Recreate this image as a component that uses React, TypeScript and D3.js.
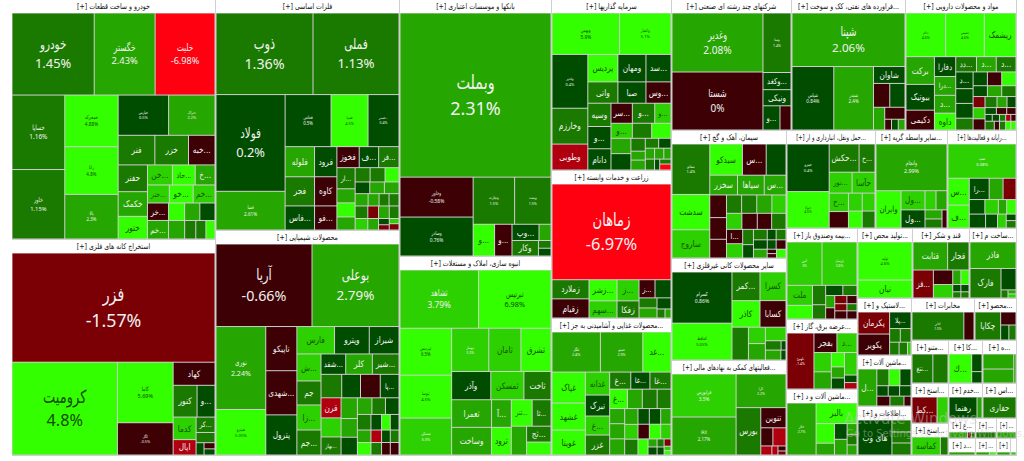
import React from 'react';
import * as d3 from 'd3';

const c = (name: string, p: number, v: number) => ({ name, p, v });
const h = (...kids: any[]) => ({ dir: 'h', kids });
const w = (...kids: any[]) => ({ dir: 'v', kids });

const autoCells = w(
  h(c('خودرو', 1.45, 6480), c('خگستر', 2.43, 4800), c('خلیت', -6.98, 4720)),
  h(
    w(c('خساپا', 1.16, 3774), c('خاور', 1.15, 3519)),
    w(c('خمحرکه', 4.88, 2652), c('رانا', 4.8, 2444), c('بالا', 2.3, 2288)),
    w(
      h(c('خپارس', 0.5, 1950), c('ختراک', 2.2, 1794)),
      h(c('فنر', 1.5, 1044), c('خزر', 1.5, 957), c('خبه...', -0.5, 754)),
      h(
        w(c('حفنر', 1.4, 754), c('خکمک', 2.5, 696), c('ختور', 4.5, 638)),
        w(
          h(c('خن...', 3.3, 480), c('حاذ...', 4.5, 440), c('خ...', 2.8, 380)),
          h(c('ختر...', 3, 378), c('خو...', 4.3, 414), c('خم...', 3.2, 378)),
          h(
            w(c('خر...', -0.5, 352), c('خم...', 2.8, 374)),
            w(
              h(c('', 4.5, 272), c('', 2.5, 255), c('', 0.5, 255)),
              h(c('', 2.8, 288), c('', 1.4, 198), c('', 1.5, 180), c('', 4.5, 162))
            )
          )
        )
      )
    )
  )
);

const miningCells = w(
  c('فزر', -1.57, 21708),
  h(
    c('کرومیت', 4.8, 9579),
    w(c('کاما', 5.69, 3300), c('کگل', -0.5, 1760)),
    w(
      c('کهاد', -0.5, 946),
      h(c('کنور', 1.5, 744), c('و...', 0.4, 558)),
      h(
        w(c('کدما', 3.8, 506), c('اپال', -4, 345)),
        w(c('کر...', 1.5, 285), c('', 1.4, 190), h(c('', 0.5, 96), w(c('', -0.5, 66), c('', 0.4, 66))))
      )
    )
  )
);

const metalCells = w(
  h(c('ذوب', 1.36, 7760), c('فملی', 1.13, 6880)),
  h(
    w(c('فولاد', 0.2, 6555), c('فسا', 2.61, 2622)),
    w(
      h(c('فخاس', 0.5, 2346), c('فسپا', 4.5, 1887), c('فسنر...', 0.4, 1581)),
      h(
        w(c('فلوله', 2.7, 870), c('فجر', 1.5, 841), c('فاس...', 0.5, 696)),
        w(c('فرود', 0.4, 660), c('کاوه', -0.6, 638), c('فو...', -0.6, 528)),
        w(
          h(c('فخوز', -0.6, 460), c('ف...', 0.6, 400), c('فر...', 1.5, 420)),
          h(
            w(c('ار...', 1.3, 378), c('', 2.8, 252), c('', 4.4, 252), c('', 2.8, 234)),
            w(
              h(c('', 1.4, 210), c('', 1.8, 210), c('', 4.6, 196)),
              h(c('', 0.5, 168), c('', 2.8, 168), c('', 2.7, 168)),
              h(c('', 2.8, 156), c('', 2.8, 132), c('', 1.5, 120), c('', 1.5, 120)),
              h(c('', 1.5, 156), c('', -1.3, 132), c('', 2.6, 132), c('', 1.8, 120)),
              h(c('', 3.7, 143), c('', 2, 121), w(c('', 0.5, 66), c('', -1.3, 55)), w(c('', 3.7, 50), c('', -1.3, 60)))
            )
          )
        )
      )
    )
  )
);

const chemCells = w(
  h(c('آریا', -0.66, 7872), c('بوعلی', 2.79, 7134)),
  h(
    w(c('نوری', 2.24, 4100), c('شپترو', 5.05, 2250)),
    w(c('تاپیکو', -0.7, 1364), c('شهدی...', -0.6, 1364), c('پترول', 0.4, 1240)),
    w(
      h(c('فارس', 3.8, 1026), c('وپترو', 0.4, 945), c('شیراز', 0.4, 810)),
      h(
        w(c('ش...', 3, 648), c('جم', 1.5, 576), c('زا...', 3.2, 600), c('جم...', 1.6, 600)),
        w(
          h(c('شفد...', 0.4, 500), c('کلر', 2.8, 540), c('شیر...', 1.5, 540)),
          h(c('', 1.4, 483), c('', 0.5, 437), c('', -0.6, 460), c('پا...', 0.5, 437)),
          h(
            w(c('قرن', -4, 400), c('', 3.6, 380), c('بهار...', 1.4, 360)),
            w(c('', 2.8, 336), c('', 2.7, 304), c('', 0.5, 288)),
            w(
              h(c('', 2.8, 240), c('', 1.5, 224), c('', 0.5, 224)),
              h(c('', 1.5, 210), c('', 0.5, 165), c('', 4, 135), c('', 0.5, 135)),
              h(c('', 2.8, 168), c('', -4.5, 132), c('', 0.5, 108), c('', 1.4, 108)),
              h(c('', 4.2, 168), c('', 1.5, 132), c('', -0.5, 108), c('', -0.9, 108))
            )
          )
        )
      )
    )
  )
);

const bankCells = w(
  c('وبملت', 2.31, 24450),
  h(
    w(c('وخاور', -0.58, 2880), c('وصادر', 0.76, 2808)),
    w(
      h(c('وتجارت', 1.5, 1927), c('وپست', 1.5, 1692)),
      h(
        c('و...', 4.6, 672),
        c('و...', -0.5, 544),
        w(
          h(c('وپ...', 0.5, 432), c('', 2.7, 192)),
          h(c('وکار', 1.4, 405), w(c('', 1.5, 96), c('', 0.5, 96)))
        )
      )
    )
  )
);

const buildCells = w(
  h(c('ثشاهد', 3.79, 4524), c('ثبرتیس', 6.98, 4176)),
  h(
    w(c('ثپردیس', 6.5, 2397), c('ثنوسا', 4.5, 2193), c('ثمسکن', 3.3, 1887)),
    w(
      h(c('ثبهساز', 3.3, 1591), c('ثامان', 3.2, 1376), c('ثشرق', 4.5, 1290)),
      h(c('وآذر', 0.5, 1092), c('ثمسکن', 3.2, 924), c('ثاخت', 1.5, 756)),
      h(
        w(c('ثعمرا', 2.3, 1092), c('وساخت', 2.3, 1092)),
        w(c('آ...', 2.5, 540), c('ثرود', 4.5, 540)),
        w(
          h(c('ثتر...', 4.4, 546), c('ثا...', 1.5, 494)),
          h(c('', 2.5, 435), w(c('ثج...', 1.5, 384), c('', 4.5, 312)))
        )
      )
    )
  )
);

const investCells = w(
  h(c('وبهمن', 5.9, 2747), c('واعتبار', 5.1, 2091)),
  h(
    w(c('وغدیر', 0.4, 1890), c('وخارزم', 1.5, 1260), c('وطوبی', -4, 910)),
    w(
      h(c('پردیس', 4.4, 810), c('ومهان', 0.4, 756), c('سد...', 0.4, 675)),
      h(c('واتی', 1.5, 630), c('صبا', 0.5, 588), c('وس...', -0.6, 525)),
      h(
        w(c('وسپه', 1.5, 529), c('و...', 0.4, 506), c('دانام', 0.5, 483)),
        w(
          h(c('سر...', -0.6, 420), c('و...', 1.5, 440), c('و...', 3.4, 320)),
          h(c('و...', 3.6, 315), c('', 1.5, 285), c('', 4.6, 285)),
          h(
            w(c('', 2.8, 300), c('', 0.5, 320)),
            w(c('', 1.5, 182), c('', 2.8, 126), c('', 2.8, 140)),
            w(
              h(c('', 1.5, 130), c('', 0.5, 120)),
              h(c('', 2.5, 99), c('', 2.5, 99), c('', 2.5, 77)),
              h(c('', 1.5, 99), c('', 0.5, 55), w(c('', 1.5, 55), c('', -6, 66)))
            )
          )
        )
      )
    )
  )
);

const farmCells = w(
  c('زماهان', -6.97, 11305),
  h(
    w(c('زملارد', 1.5, 703), c('زقیام', -0.6, 703)),
    w(c('زشر...', 4.4, 588), c('سهم...', 3.4, 476)),
    w(c('ز...', 3.2, 462), c('زفکا', 1.4, 374)),
    w(
      h(c('ز...', -0.6, 288), c('', 0.4, 288)),
      h(
        w(c('', 1.4, 180), c('', 2.7, 180)),
        w(c('', 0.5, 154), h(c('', 1.4, 72), c('', 2.8, 54)))
      )
    )
  )
);

const foodCells = w(
  h(c('غگل', 2.4, 1920), c('غمینو', 2.9, 1680), c('غد...', 4.5, 1120)),
  h(
    w(c('غپاک', 4.4, 1023), c('غشهد', 4.5, 891), c('غویتا', 4.3, 825)),
    w(c('غدانه', 3.8, 552), c('تبرک', 0.5, 504), c('غ...', 3, 456), c('غزر', 1.5, 480)),
    w(
      h(c('غ...', 1.5, 357), c('غا...', 0.5, 323), c('غا...', 1.5, 357)),
      h(c('غ...', 4, 342), c('', 2.7, 285), c('', 1.5, 285), c('', 1.4, 266)),
      h(
        w(c('', 2.7, 225), c('', 2.7, 225), c('', 2.7, 240)),
        w(c('', 2.4, 208), c('', 3, 195), c('', 1.5, 208)),
        w(
          h(c('', 0.5, 176), c('', 0.5, 176), c('', 2.8, 160)),
          h(c('', -0.6, 165), c('', 4.5, 165), c('', 3.4, 150)),
          h(c('', 4.5, 160), w(c('', 2.8, 72), c('', 0.5, 72)), w(c('', 1.4, 56), c('', 0.5, 56)), w(c('', -1.3, 50), c('', 3.4, 30), c('', 4, 30)))
        )
      )
    )
  )
);

const holdingCells = h(
  w(c('وغدیر', 2.08, 5310), c('شستا', 0, 5220)),
  w(
    c('وصنا', 1.4, 1652),
    c('وکغد...', 0.4, 476),
    c('ونیکی', 0.4, 448),
    h(c('و...', 0.4, 408), c('', -0.6, 264))
  )
);

const oilCells = w(
  c('شپنا', 2.06, 5989),
  h(
    c('شپاس', 0.84, 2624),
    c('شبندر', 2.4, 2496),
    w(
      c('شاوان', 0.4, 527),
      h(c('', -0.6, 384), c('', 0.4, 360)),
      h(c('', 2.7, 253), w(c('', -0.6, 240), h(c('', -0.6, 72), c('', 0.5, 72), c('', 2.5, 72))))
    )
  )
);

const pharmaCells = w(
  h(c('ددام', 4.6, 1720), c('دشیمی', 4.6, 1677), c('ریشمک', 4.5, 1376)),
  h(
    w(c('برکت', 2.7, 784), c('بیوتیک', 0.4, 728), c('دکیمی', -0.6, 560)),
    w(c('دفارا', 0.4, 420), c('درا...', 2.7, 399), c('د...', 2.7, 378), c('داوه', 4.4, 357)),
    w(
      h(c('دد...', 1.5, 315), c('د...', 2.7, 300), c('د...', 1.5, 300)),
      h(
        w(c('د...', 0.4, 289), c('', 0.4, 255), c('', 0.4, 255), c('', 1.5, 204)),
        w(
          h(c('', 0.4, 196), c('', -0.6, 196), c('', 4.4, 196)),
          h(c('', 0.4, 154), c('', 2.7, 154), c('', 1.5, 154)),
          h(
            w(c('', -1.5, 132), c('', 3.4, 132), c('', -0.6, 132)),
            w(
              h(c('', 1.5, 132), c('', 2.7, 110), c('', 0.5, 99)),
              h(c('', 0.4, 77), c('', -0.6, 70), c('', -0.6, 63)),
              h(c('', 0.4, 49), c('', 0.4, 49), c('', 1.5, 42), c('', -4, 35), c('', -0.6, 35)),
              h(c('', 1.5, 81), c('', -0.6, 45), c('', 1.5, 54), c('', 4, 45), c('', 4, 45))
            )
          )
        )
      )
    )
  )
);

const cementCells = h(
  w(c('سفانو', 1.4, 1850), c('سدشت', 4.5, 1295), c('ساروج', 3.2, 1036)),
  w(
    h(c('سیدکو', 4.6, 990), c('س...', -0.6, 720), c('', 0.4, 600)),
    h(c('سخزر', 2.7, 532), c('سپاها', 2.7, 513), c('س...', 2.8, 418)),
    h(
      w(c('', -0.6, 368), c('', -0.6, 352), c('', -0.6, 304)),
      w(
        h(c('', 1.5, 270), c('', 1.5, 270), c('', 2.5, 270), c('', 3, 252)),
        h(c('', 3.2, 240), c('', -0.6, 240), c('', -0.6, 224), c('', 1.5, 224)),
        h(
          w(c('ا...', -0.6, 225), c('', 3.4, 225)),
          w(c('', 1.5, 160), c('', 0.4, 140)),
          w(
            h(c('', 1.5, 140), c('', 0.4, 90), c('', 1.5, 100)),
            h(c('', 0.4, 126), c('', 0.4, 81), c('', -0.6, 90)),
            h(c('', 2.7, 117), w(c('', -0.6, 40), c('', -0.6, 40)), c('', 4, 81))
          )
        )
      )
    )
  )
);

const mineralCells = h(
  w(c('کسرام', 0.86, 3000), c('کحافظ', 5.05, 2160)),
  w(
    h(c('کمر...', 1.5, 784), c('کسرا', 3, 728)),
    h(c('کاذر', 4.4, 728), c('کسابا', -0.6, 676)),
    h(
      c('', 1.4, 528),
      w(c('', 3, 272), c('', 2.7, 272)),
      w(c('', 3.8, 273), h(c('', 1.5, 144), c('', 0.4, 45)), h(c('', 2.7, 150), c('', 0.4, 50)))
    )
  )
);

const financeCells = h(
  w(c('فرابورس', 3.5, 2709), c('IRX', 2.17, 2394)),
  w(
    c('کارا', 2.2, 1650),
    h(
      c('بورس', 1.4, 1150),
      w(
        c('تنوین', -0.6, 500),
        h(c('', -0.6, 216), c('', -4, 234)),
        h(c('', -4, 99), c('', -4.5, 54), w(c('', -0.6, 40), c('', -1.3, 32)))
      )
    )
  )
);

const transportCells = h(
  w(c('حپترو', 0.4, 1927), c('حتوکا', 4.5, 1476)),
  w(
    h(c('حکش...', 1.5, 810), c('ح...', 1.4, 432)),
    h(c('نور...', 3, 460), c('حآسا', 3, 460)),
    h(
      w(c('ح...', 3, 342), c('', -0.6, 304)),
      w(h(c('', 3, 238), c('', 3.4, 221)), h(c('', 4.4, 224), c('', 1.5, 208)))
    )
  )
);

const brokerCells = w(
  c('وانجام', 2.99, 3290),
  h(
    c('وایران', 4.5, 925),
    w(
      h(c('ول...', 3.8, 456), c('', 3, 209), c('', 2.7, 209)),
      h(c('ول...', 0.4, 432), w(c('', 2.7, 153), c('', 1.5, 153)), c('', -0.6, 90))
    )
  )
);

const itCells = w(
  c('سپ', 3.38, 2312),
  h(
    w(c('س...', 4.3, 567), c('ف...', 4.3, 483)),
    w(
      h(c('را...', 0.4, 420), c('', 2.8, 294), c('', -1.4, 273)),
      h(c('', 0.4, 225), c('', 3.2, 195), c('', 2.7, 120), c('', 4.4, 135)),
      h(c('', 0.4, 225), c('', 0.5, 165), c('', 3, 120), w(c('', 0.5, 63), c('', 1.4, 72)))
    )
  )
);

const insuranceCells = w(
  h(c('البرز', 3, 1470), c('پارسیان', 3.6, 1470)),
  h(
    w(c('ملت', 3.4, 494), c('', 4.4, 338)),
    w(c('', 1.5, 247), c('', 1.5, 182)),
    w(
      h(c('', 0.5, 170), c('', 1.5, 140)),
      h(
        w(c('', 2.7, 108), c('', -0.6, 99)),
        w(c('', -1.5, 96), c('', -1.5, 84), c('', -0.6, 96)),
        w(c('', -0.6, 80), c('', 1.4, 70), c('', -0.6, 80))
      )
    )
  )
);

const powerCells = h(
  c('بکهنوج', -1.4, 1456),
  w(
    h(c('بفجر', -0.6, 432), c('د...', 3.5, 378)),
    h(
      w(c('', 3.2, 324), c('', 2.7, 288)),
      w(c('', 4.4, 182), c('', 2.7, 140), c('', 0.4, 140)),
      w(c('', 3.5, 273), c('', 0.4, 91), c('', -4, 78))
    )
  )
);

const machineACells = h(
  c('خکار', 2.7, 1508),
  w(
    c('بالبر', 4, 840),
    h(
      w(c('', 4.4, 360), c('', 2.8, 216)),
      w(c('', 0.4, 198), c('', 2.7, 198)),
      w(c('', 2.5, 110), c('', 1.5, 100), c('', 2.5, 100))
    )
  )
);

const productCells = w(c('تولید', 4.6, 1944), c('نیان', 4.6, 918));

const sugarCells = w(
  h(c('قثابت', 2.7, 918), c('قجار', 1.5, 567)),
  h(
    c('قز...', -1.4, 540),
    w(
      h(c('', -0.6, 266), c('', 2.8, 112), c('', 4.4, 112)),
      h(c('', 3.6, 247), w(c('', 0.4, 56), c('', 1.4, 48)), w(c('', 0.4, 56), c('', 1.4, 48)))
    )
  )
);

const buildMatCells = w(
  c('فاذر', 2.4, 1196),
  h(c('فارک', 1.5, 899), w(c('', 0.4, 315), h(c('', 1.5, 56), w(c('', 2.7, 32), c('', 3, 32)))))
);

const tyreCells = h(
  w(c('پکرمان', -1.4, 620), c('پکویر', -0.6, 589)),
  w(
    c('پلا...', 0.4, 315),
    h(c('', 1.5, 130), c('', 1.5, 130)),
    h(c('', 1.5, 108), c('', 1.5, 96), c('', 3.2, 40))
  )
);

const machineCells = h(
  c('ل...', 2.7, 703),
  w(
    h(c('', 1.5, 204), c('', 4.4, 187), c('', 0.4, 187)),
    h(c('', 0.4, 120), c('', 0.4, 120), c('', 0.4, 120)),
    h(c('', -0.6, 130), c('', 1.5, 140), c('', -0.6, 70))
  )
);

const webCells = h(
  c('های وب', 0.4, 1190),
  w(c('', 1.5, 230), c('', 1.5, 210), c('', 1.5, 230))
);

const telecomCells = h(c('اخابر', 1.5, 1377), c('', -0.6, 270));
const productBCells = h(
  c('چکاپا', 1.5, 702),
  w(c('', -0.6, 195), h(c('', 0.4, 120), c('', 1.5, 105)))
);
const miscCells = h(c('نتغ...', 1.5, 616), c('', 1.7, 448));
const kaCells = h(c('ك...', 4.5, 616), w(c('', 0.4, 170), c('', 0.4, 110)));
const heCells = h(w(c('', 2.4, 420), c('', 2.4, 390)), c('', 2.8, 60));
const ext1Cells = h(c('کط...', -1.4, 621), c('', 3.8, 270));
const serviceCells = h(c('رهنما', 0.4, 560), c('', 2.7, 100));
const oilDrillCells = h(c('حفاری', 1.5, 660));
const ext2Cells = h(c('کماسه', 3, 520), c('', 1.5, 140));
const t1Cells = h(c('', 2.7, 60), c('', -1.4, 12), c('', 1.5, 12));
const t2Cells = h(c('', 1, 60));
const t3Cells = h(c('', 2.7, 60));
const t4Cells = h(c('', 2.7, 60));
const t5Cells = h(c('', 2.9, 40), c('', 4.2, 20));
const t6Cells = h(c('', 2.7, 60));
const t7Cells = h(c('', 3, 20));

const s = (title: string, area: number, tree: any) => ({ title, area, tree });

const sectorLayout = h(
  w(s('خودرو و ساخت قطعات', 48960, autoCells), s('استخراج کانه های فلزی', 44064, miningCells)),
  w(s('فلزات اساسی', 42504, metalCells), s('محصولات شیمیایی', 41400, chemCells)),
  w(s('بانکها و موسسات اعتباری', 39064, bankCells), s('انبوه سازی، املاک و مستغلات', 30248, buildCells)),
  w(
    s('سرمایه گذاریها', 20520, investCells),
    s('زراعت و خدمات وابسته', 17760, farmCells),
    s('محصولات غذایی و آشامیدنی به جز...', 16440, foodCells)
  ),
  w(
    h(
      s('شرکتهای چند رشته ای صنعتی', 15720, holdingCells),
      s('فراورده های نفتی، کک و سوخت...', 14934, oilCells),
      s('مواد و محصولات دارویی', 14541, pharmaCells)
    ),
    h(
      w(
        s('سیمان، آهک و گچ', 14720, cementCells),
        s('سایر محصولات کانی غیرفلزی', 11730, mineralCells),
        s('فعالیتهای کمکی به نهادهای مالی...', 10925, financeCells)
      ),
      w(
        h(
          s('حمل ونقل، انبارداری و ار...', 8722, transportCells),
          s('سایر واسطه گریه...', 7056, brokerCells),
          s('رایانه و فعالیت‌ها...', 6762, itCells)
        ),
        h(
          w(
            s('بیمه وصندوق باز...', 6461, insuranceCells),
            s('عرضه برق، گاز...', 4970, powerCells),
            s('ماشین آلات و د...', 4686, machineACells)
          ),
          w(
            h(
              s('تولید محص...', 3850, productCells),
              s('قند و شکر', 3990, sugarCells),
              s('ساخت م...', 3290, buildMatCells)
            ),
            h(
              w(
                s('لاستیک و...', 3078, tyreCells),
                s('ماشین آلات...', 2754, machineCells),
                s('اطلاعات و...', 2646, webCells)
              ),
              w(
                h(s('مخابرات', 2646, telecomCells), s('محصو...', 1764, productBCells)),
                h(
                  w(
                    s('متنو...', 1591, miscCells),
                    s('استخ...', 1480, ext1Cells),
                    s('استخ...', 1184, ext2Cells)
                  ),
                  w(
                    h(s('کا...', 1462, kaCells), s('ه...', 1462, heCells)),
                    h(s('خدم...', 1190, serviceCells), s('اس...', 1190, oilDrillCells)),
                    h(s('ع...', 540, t1Cells), s('...', 420, t2Cells), s('...', 400, t3Cells)),
                    h(s('د...', 459, t4Cells), s('...', 357, t5Cells), s('', 238, t6Cells), s('-', 102, t7Cells))
                  )
                )
              )
            )
          )
        )
      )
    )
  )
);

const colorScale = d3
  .scaleThreshold<number, string>()
  .domain([-5, -3, -1, 0.001, 1, 2, 3, 4])
  .range(['#ff0010', '#b00010', '#7a0006', '#3d0004', '#004d00', '#1a7a00', '#26a600', '#2dd000', '#33ff00']);

const fontScale = d3
  .scaleLinear()
  .domain([1400, 3700, 4640, 6480, 9500, 24000])
  .range([3.6, 6.5, 9.5, 14, 18, 20])
  .clamp(true);

const FONT = '"DejaVu Sans", sans-serif';
const tile = (node: any, x0: number, y0: number, x1: number, y1: number) =>
  (node.data.dir === 'h' ? d3.treemapDice : d3.treemapSlice)(node, x0, y0, x1, y1);

function layout(tree: any, width: number, height: number) {
  const root = d3
    .hierarchy(tree, (d: any) => d.kids)
    .sum((d: any) => (d.kids ? 0 : d.v ?? 0));
  return d3.treemap().tile(tile as any).size([width, height]).round(false)(root as any);
}

function Cell({ n }: { n: any }) {
  const cw = n.x1 - n.x0;
  const ch = n.y1 - n.y0;
  const { name, p } = n.data;
  const area = cw * ch;
  const cx = n.x0 + cw / 2;
  const cy = n.y0 + ch / 2;
  const withPct = area >= 1400 && name;
  const fill = colorScale(p);
  let text = '#f2f2f2';
  if (p >= 4) text = '#124a00';
  else if (p >= 3 && !withPct) text = '#125400';
  let label: any = null;
  if (name && withPct) {
    const fs = fontScale(area);
    label = (
      <g fontSize={fs} fill={text} textAnchor="middle">
        <text transform={`translate(${cx},${cy - fs * 0.32}) scale(0.72,1)`}>{name}</text>
        <text
          x={cx}
          y={cy + fs * 0.98}
          fontSize={fs * 0.9}
          fontFamily='"Noto Sans", sans-serif'
        >{`${p}%`}</text>
      </g>
    );
  } else if (name && cw > 12 && ch > 9) {
    const fs = Math.min(9, (cw - 2) / (name.length * 0.45), ch * 0.7);
    label = (
      <text
        transform={`translate(${cx},${cy + fs * 0.35}) scale(0.82,1)`}
        fontSize={fs}
        fill={text}
        textAnchor="middle"
      >
        {name}
      </text>
    );
  }
  return (
    <g>
      <rect
        x={n.x0 + 0.5}
        y={n.y0 + 0.5}
        width={Math.max(0, cw - 1)}
        height={Math.max(0, ch - 1)}
        fill={fill}
      />
      {label}
    </g>
  );
}

function Sector({ n }: { n: any }) {
  const { title, tree } = n.data;
  const sw = n.x1 - n.x0 - 1;
  const sh = n.y1 - n.y0 - 1;
  const head = 13;
  const body = layout(tree, sw, Math.max(1, sh - head));
  const label = title === '-' ? '' : `[+] ${title}`;
  const sx = Math.min(0.8, (sw - 2) / (Math.max(1, label.length) * 0.53 * 7.8));
  return (
    <g transform={`translate(${n.x0},${n.y0})`}>
      <rect width={sw} height={head} fill="#ffffff" />
      {label && (
        <text
          transform={`translate(${sw / 2},9.2) scale(${sx},1)`}
          fontSize={7.8}
          fill="#111"
          textAnchor="middle"
        >
          {label}
        </text>
      )}
      <g transform={`translate(0,${head})`}>
        {body.leaves().map((leaf: any, i: number) => (
          <Cell key={i} n={leaf} />
        ))}
      </g>
    </g>
  );
}

export default function App() {
  const outer = d3
    .hierarchy(sectorLayout as any, (d: any) => (d.tree ? undefined : d.kids))
    .sum((d: any) => d.area ?? 0);
  const sectors = d3.treemap().tile(tile as any).size([1005, 456]).round(false)(outer as any);
  return (
    <svg
      width={1024}
      height={461}
      viewBox="0 0 1024 461"
      style={{ position: 'absolute', left: 0, top: 0, display: 'block', background: '#fff' }}
      fontFamily={FONT}
    >
      <g transform="translate(12,0)">
        <rect width={1005} height={456} fill="#cfcfcf" />
        {sectors.leaves().map((leaf: any, i: number) => (
          <Sector key={i} n={leaf} />
        ))}
      </g>
      <text x={844} y={424} fontSize={15} fill="#c8c8c8" fillOpacity={0.45}>Activate Windows</text>
      <text x={846} y={437} fontSize={10} fill="#c8c8c8" fillOpacity={0.45}>Go to Settings to activate Windows.</text>
    </svg>
  );
}
